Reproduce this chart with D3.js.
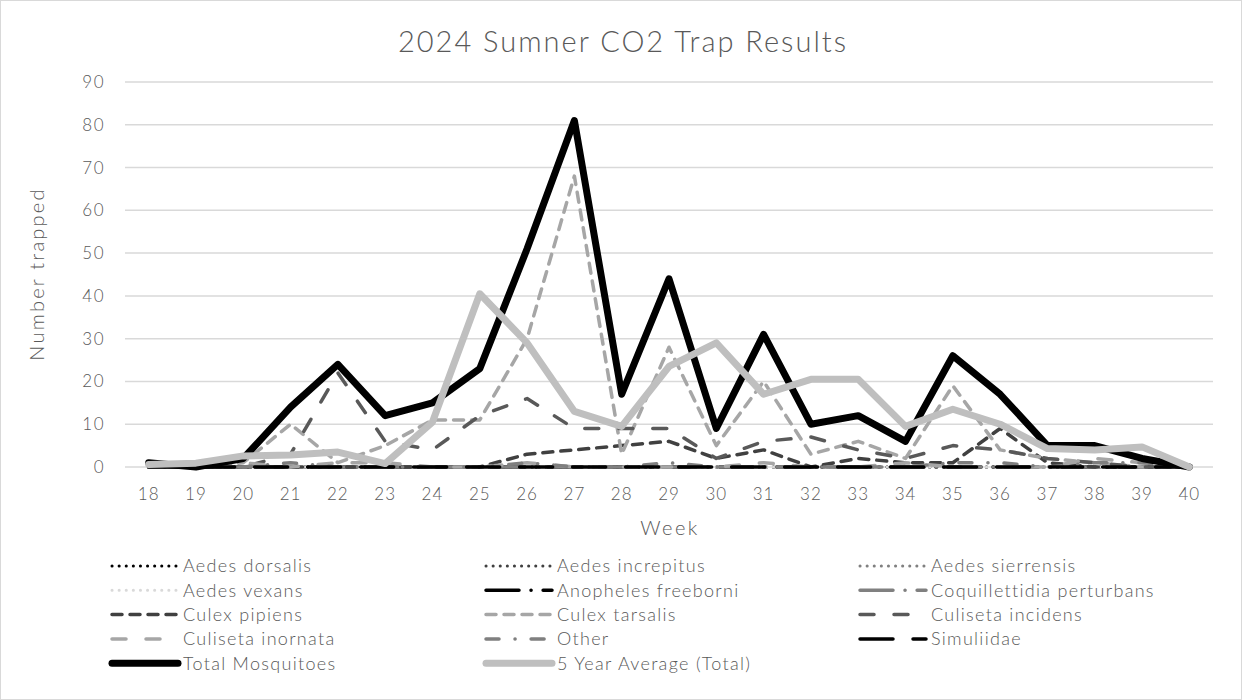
<!DOCTYPE html>
<html><head><meta charset="utf-8">
<script src="https://cdn.jsdelivr.net/npm/d3@7"></script>
<style>
body{margin:0;background:#fff;}
svg text{font-family:"Lato","Noto Sans",sans-serif;font-weight:300;fill:#595959;}
</style></head>
<body><svg id="chart" width="1242" height="700"></svg>
<script>
const weeks = ["18","19","20","21","22","23","24","25","26","27","28","29","30","31","32","33","34","35","36","37","38","39","40"];
const yTicks = [0,10,20,30,40,50,60,70,80,90];
const zeros = weeks.map(() => 0);
const aedesDorsalis = zeros.slice();
const aedesIncrepitus = zeros.slice();
const aedesSierrensis = zeros.slice();
const aedesVexans = zeros.slice();
const anophelesFreeborni = zeros.slice();
const coquillettidiaPerturbans = zeros.slice();
const culexPipiens = [0,0,0,0,0,0,0,0,3,4,5,6,2,4,0,2,1,1,9,1,0,0,0];
const culexTarsalis = [0,0,1,10,1,5,11,11,30,68,3,28,5,20,3,6,2,19,4,2,1,0,0];
const culisetaIncidens = [0,0,0,3,22,6,4,12,16,9,9,9,2,6,7,4,2,5,4,2,1,0,0];
const culisetaInornata = [0,0,1,0,1,1,0,0,1,0,0,0,0,1,0,0,1,0,0,0,2,1,0];
const other = [1,0,0,1,0,0,0,0,1,0,0,1,0,0,0,0,0,1,1,0,1,1,0];
const simuliidae = zeros.slice();
const totalMosquitoes = [1,0,2,14,24,12,15,23,51,81,17,44,9,31,10,12,6,26,17,5,5,2,0];
const fiveYearAvg = [0.6,0.9,2.6,2.8,3.5,0.8,10.5,40.5,29,13,9.5,23.5,29,17,20.5,20.5,9.5,13.5,10,4.3,4,4.7,0];

const seriesNames = ["Aedes dorsalis","Aedes increpitus","Aedes sierrensis","Aedes vexans","Anopheles freeborni","Coquillettidia perturbans","Culex pipiens","Culex tarsalis","Culiseta incidens","Culiseta inornata","Other","Simuliidae","Total Mosquitoes","5 Year Average (Total)"];
const seriesValues = [aedesDorsalis,aedesIncrepitus,aedesSierrensis,aedesVexans,anophelesFreeborni,coquillettidiaPerturbans,culexPipiens,culexTarsalis,culisetaIncidens,culisetaInornata,other,simuliidae,totalMosquitoes,fiveYearAvg];

const styles = [
  {c:"#000000", w:3, d:"0.1,7"},
  {c:"#404040", w:3, d:"0.1,7"},
  {c:"#808080", w:3, d:"0.1,7"},
  {c:"#d9d9d9", w:3, d:"0.1,7"},
  {c:"#000000", w:3.5, d:"33,12,0.1,12"},
  {c:"#808080", w:3.5, d:"33,12,0.1,12"},
  {c:"#404040", w:3.5, d:"10,8"},
  {c:"#a6a6a6", w:3.5, d:"10,8"},
  {c:"#595959", w:3.5, d:"14,20"},
  {c:"#a6a6a6", w:3.5, d:"14,20"},
  {c:"#7f7f7f", w:3.5, d:"13,16,0.1,16"},
  {c:"#000000", w:3.5, d:"33,20"},
  {c:"#000000", w:7, d:null},
  {c:"#bfbfbf", w:7, d:null}
];

const svg = d3.select("#chart");
svg.append("rect").attr("x",0.5).attr("y",0.5).attr("width",1241).attr("height",699)
  .attr("fill","#fff").attr("stroke","#d9d9d9");

const x = d3.scaleBand().domain(weeks).range([125,1213]).padding(0);
const y = d3.scaleLinear().domain([0,90]).range([467,82]);

// title
svg.append("text").attr("x",623).attr("y",52).attr("text-anchor","middle")
  .style("font-size","29px").style("letter-spacing","2px").text("2024 Sumner CO2 Trap Results");

// gridlines
svg.append("g").selectAll("line").data(yTicks).join("line")
  .attr("x1",125).attr("x2",1213).attr("y1",d=>y(d)).attr("y2",d=>y(d))
  .attr("stroke","#d9d9d9").attr("stroke-width",1.5);

// y tick labels
svg.append("g").selectAll("text").data(yTicks).join("text")
  .attr("x",105).attr("y",d=>y(d)).attr("dy","0.35em").attr("text-anchor","end")
  .style("font-size","17px").style("letter-spacing","1.5px").text(d=>d);

// x tick labels
svg.append("g").selectAll("text").data(weeks).join("text")
  .attr("x",d=>x(d)+x.bandwidth()/2).attr("y",494).attr("dy","0.35em").attr("text-anchor","middle")
  .style("font-size","17px").style("letter-spacing","1px").text(d=>d);

// axis titles
svg.append("text").attr("x",670).attr("y",528).attr("dy","0.35em").attr("text-anchor","middle")
  .style("font-size","20px").style("letter-spacing","2.5px").text("Week");
svg.append("text").attr("transform","translate(37,274) rotate(-90)").attr("dy","0.35em")
  .attr("text-anchor","middle").style("font-size","20px").style("letter-spacing","2.2px").text("Number trapped");

// lines
const line = d3.line().x((d,i)=>x(weeks[i])+x.bandwidth()/2).y(d=>y(d));
const lg = svg.append("g");
seriesValues.forEach((vals,i)=>{
  const s = styles[i];
  lg.append("path").datum(vals).attr("d",line).attr("fill","none")
    .attr("stroke",s.c).attr("stroke-width",s.w)
    .attr("stroke-linecap","round").attr("stroke-linejoin","round")
    .attr("stroke-dasharray",s.d);
});

// legend
const colX = [112,486,860];
const leg = svg.append("g");
seriesNames.forEach((name,i)=>{
  const col = i%3, row = Math.floor(i/3);
  const lx = colX[col], ly = 566 + row*24.3;
  const s = styles[i];
  leg.append("line").attr("x1",lx).attr("x2",lx+66).attr("y1",ly).attr("y2",ly)
    .attr("stroke",s.c).attr("stroke-width",s.w).attr("stroke-linecap","round")
    .attr("stroke-dasharray",s.d);
  leg.append("text").attr("x",lx+71).attr("y",ly).attr("dy","0.35em")
    .style("font-size","18px").style("letter-spacing","1.3px").text(name);
});
</script></body></html>
